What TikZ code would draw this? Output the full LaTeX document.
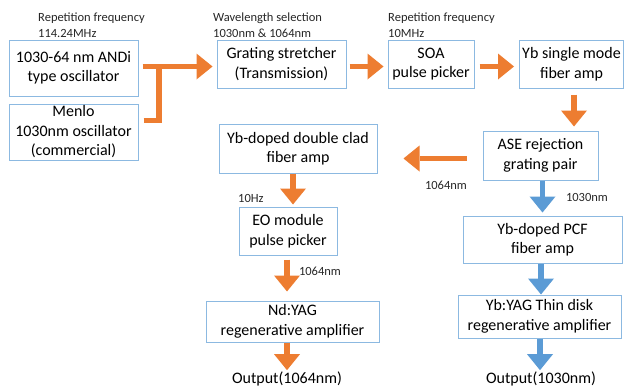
\documentclass[tikz,border=0pt]{standalone}
\usepackage{fontspec}
\setmainfont{Carlito}
\usetikzlibrary{arrows.meta,calc}
\definecolor{boxblue}{RGB}{140,185,225}
\definecolor{aorange}{RGB}{237,125,49}
\definecolor{ablue}{RGB}{91,155,213}
\tikzset{
  box/.style={draw=boxblue, line width=1pt, align=center, inner sep=0pt,
    font=\fontsize{16}{19.5}\selectfont},
  small/.style={inner sep=0pt, align=left, font=\fontsize{12.5}{16}\selectfont, text=black!85},
  outtext/.style={inner sep=0pt, font=\fontsize{16}{19.5}\selectfont},
  oarrow/.style={draw=aorange, line width=5.5pt,
    -{Triangle[width=26pt,length=16pt,line width=0pt,fill=aorange]}},
  barrow/.style={draw=ablue, line width=5.5pt,
    -{Triangle[width=26pt,length=16pt,line width=0pt,fill=ablue]}},
  bar/.style={draw=aorange, line width=5.5pt, line join=miter}
}
\begin{document}
\begin{tikzpicture}[x=1pt,y=-1pt]
\useasboundingbox (0,0) rectangle (625,388);

% boxes
\node[box, minimum width=129pt, minimum height=56pt] (andi) at (73.5,68) {1030-64 nm ANDi\\type oscillator};
\node[box, minimum width=129pt, minimum height=56pt] (menlo) at (73.5,132) {Menlo\\1030nm oscillator\\(commercial)};
\node[box, minimum width=129pt, minimum height=48pt] (stretch) at (281.5,64) {Grating stretcher\\(Transmission)};
\node[box, minimum width=86pt, minimum height=48pt] (soa) at (431,64) {SOA\\pulse picker};
\node[box, minimum width=104pt, minimum height=48pt] (ybsm) at (571.5,64) {Yb single mode\\fiber amp};
\node[box, minimum width=115pt, minimum height=49pt] (ase) at (540.5,155.5) {ASE rejection\\grating pair};
\node[box, minimum width=158pt, minimum height=49pt] (dclad) at (298,148.5) {Yb-doped double clad\\fiber amp};
\node[box, minimum width=98pt, minimum height=48pt] (eo) at (288,231) {EO module\\pulse picker};
\node[box, minimum width=173pt, minimum height=41pt] (ndyag) at (292.5,321.5) {Nd:YAG\\regenerative amplifier};
\node[box, minimum width=159pt, minimum height=47pt] (pcf) at (542.5,239.5) {Yb-doped PCF\\fiber amp};
\node[box, minimum width=163pt, minimum height=43pt] (ybyag) at (539.5,316.5) {Yb:YAG Thin disk\\regenerative amplifier};

% outputs
\node[outtext] (out1) at (287,378.5) {Output(1064nm)};
\node[outtext] (out2) at (541,378.5) {Output(1030nm)};

% small labels
\node[small, anchor=west] (l1) at (38,25) {Repetition frequency\\114.24MHz};
\node[small, anchor=west] (l2) at (213,25) {Wavelength selection\\1030nm \& 1064nm};
\node[small, anchor=west] (l3) at (388,25) {Repetition frequency\\10MHz};
\node[small, anchor=west] (l4) at (238,198) {10Hz};
\node[small] (l5) at (446,185) {1064nm};
\node[small] (l6) at (587,197) {1030nm};
\node[small] (l7) at (320,271) {1064nm};

% merge
\coordinate (mj) at (159,64);
\draw[bar] ([xshift=5pt,yshift=11.5pt]menlo.east) -| (mj);

% arrows
\draw[oarrow, shorten <=4pt, shorten >=4pt] ([yshift=1.5pt]andi.east) -- ([yshift=1.5pt]andi.east -| stretch.west);
\draw[oarrow, shorten <=3pt, shorten >=4pt] ([yshift=-2.5pt]stretch.east) -- ([yshift=-2.5pt]stretch.east -| soa.west);
\draw[oarrow, shorten <=5pt, shorten >=5pt] ([yshift=-2.5pt]soa.east) -- ([yshift=-2.5pt]soa.east -| ybsm.west);
\draw[oarrow, shorten <=6pt, shorten >=4pt] ([xshift=2.5pt]ybsm.south) -- ([xshift=2.5pt]ybsm.south |- ase.north);
\draw[oarrow, shorten <=16pt, shorten >=26pt] ([yshift=-3pt]ase.west) -- ([yshift=-3pt]ase.west -| dclad.east);
\draw[barrow, shorten >=3pt] ([xshift=2pt]ase.south) -- ([xshift=2pt]ase.south |- pcf.north);
\draw[oarrow, shorten >=2pt] ([xshift=-5pt]dclad.south) -- ([xshift=-5pt]dclad.south |- eo.north);
\draw[oarrow, shorten <=4pt, shorten >=9pt] ([xshift=-1pt]eo.south) -- ([xshift=-1pt]eo.south |- ndyag.north);
\draw[oarrow, shorten >=1pt] ([xshift=-5.5pt]ndyag.south) -- ([xshift=-5.5pt]ndyag.south |- out1.north);
\draw[barrow] ([xshift=-1.5pt]pcf.south) -- ([xshift=-1.5pt]pcf.south |- ybyag.north);
\draw[barrow, shorten >=1pt] ([xshift=0.5pt]ybyag.south) -- ([xshift=0.5pt]ybyag.south |- out2.north);
\end{tikzpicture}
\end{document}
